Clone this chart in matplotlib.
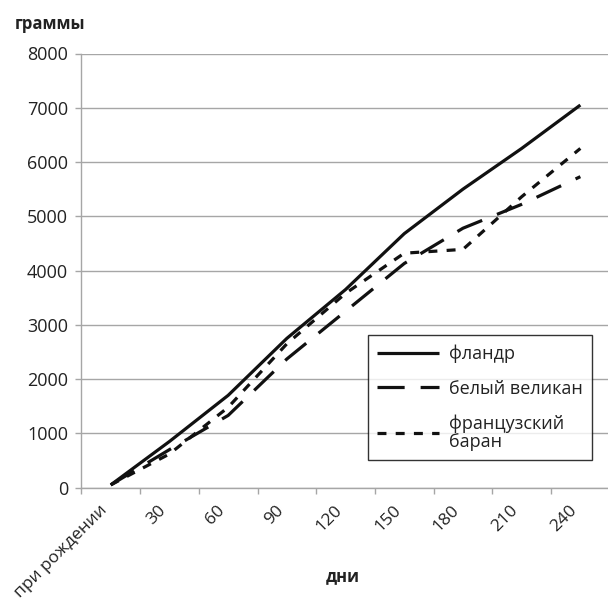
import matplotlib
matplotlib.use("Agg")
import matplotlib.pyplot as plt
from matplotlib.ticker import FixedLocator, MultipleLocator

plt.rcParams['font.family'] = ['Open Sans', 'DejaVu Sans']

# Weight of rabbits by breed, grams
categories = ['при рождении', '30', '60', '90', '120', '150', '180', '210', '240']
flandr = [50, 850, 1700, 2750, 3650, 4680, 5500, 6250, 7050]
belyi_velikan = [50, 700, 1330, 2370, 3250, 4130, 4780, 5220, 5730]
francuzskiy_baran = [50, 620, 1480, 2650, 3580, 4320, 4390, 5360, 6250]

series_labels = ['фландр', 'белый великан', 'французский\nбаран']

W, H = 608, 606
fig = plt.figure(figsize=(W / 100, H / 100), dpi=100)
ax = fig.add_axes([81.4 / W, 1 - 487.6 / H, (609.7 - 81.4) / W, (487.6 - 53.5) / H])

line_color = '#111111'
grid_color = '#a6a6a6'
text_color = '#222222'

x = range(len(categories))
ax.plot(x, flandr, color=line_color, lw=2.3, solid_capstyle='butt',
        solid_joinstyle='round', label=series_labels[0])
ax.plot(x, belyi_velikan, color=line_color, lw=2.3, dash_capstyle='butt',
        linestyle=(0, (8.5, 5)), label=series_labels[1])
ax.plot(x, francuzskiy_baran, color=line_color, lw=2.3, dash_capstyle='butt',
        linestyle=(0, (2.8, 2.9)), label=series_labels[2])

ax.set_xlim(-0.5, len(categories) - 0.5)
ax.set_ylim(0, 8000)
ax.yaxis.set_major_locator(MultipleLocator(1000))
ax.grid(axis='y', color=grid_color, lw=1.0)
ax.set_axisbelow(True)

for side in ['top', 'right']:
    ax.spines[side].set_visible(False)
for side in ['left', 'bottom']:
    ax.spines[side].set_color(grid_color)
    ax.spines[side].set_linewidth(1.0)

# Category labels sit between the tick marks
ax.set_xticks(list(x))
ax.set_xticklabels(categories, rotation=45, ha='right', va='top')
ax.xaxis.set_minor_locator(FixedLocator([i - 0.5 for i in range(len(categories) + 1)]))
ax.tick_params(axis='x', which='major', length=0, pad=10.5, labelsize=12.5, labelcolor=text_color)
ax.tick_params(axis='x', which='minor', length=4, color=grid_color, width=1.0, direction='out')
ax.tick_params(axis='y', which='major', length=4, color=grid_color, width=1.0, pad=5.5,
               labelsize=13, labelcolor=text_color)

fig.text(15 / W, 1 - 24 / H, 'граммы', fontsize=12, fontweight='bold',
         color=text_color, ha='left', va='center')
fig.text(343 / W, 1 - 576 / H, 'дни', fontsize=12, fontweight='bold',
         color=text_color, ha='center', va='center')

leg = ax.legend(loc='upper left', bbox_to_anchor=(368.4 / W, 1 - 335.4 / H),
                bbox_transform=fig.transFigure, borderaxespad=0, frameon=True,
                fancybox=False, edgecolor='#000000', fontsize=13, handlelength=3.4,
                handletextpad=0.55, labelspacing=0.92, borderpad=0.5)
leg.get_frame().set_linewidth(1.0)
for t in leg.get_texts():
    t.set_color(text_color)
    t.set_linespacing(1.0)

fig.savefig('out.png', dpi=100)
